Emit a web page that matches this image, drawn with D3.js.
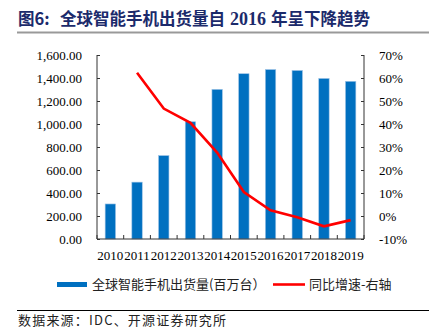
<!DOCTYPE html>
<html><head><meta charset="utf-8">
<script src="https://cdn.jsdelivr.net/npm/d3@7"></script>
<style>body{margin:0;background:#fff}svg{display:block}</style>
</head><body>
<svg id="c" width="439" height="329"></svg>
<script>
const years = ["2010","2011","2012","2013","2014","2015","2016","2017","2018","2019"];
const shipments = [304.7, 494.5, 725.3, 1019.4, 1301.1, 1437.2, 1473.4, 1465.5, 1396.0, 1371.1];
const growth = [null, 62.3, 46.7, 40.5, 27.6, 10.4, 2.5, -0.5, -4.5, -1.8];
const leftTicks = [0,200,400,600,800,1000,1200,1400,1600];
const rightTicks = [-10,0,10,20,30,40,50,60,70];
const titleLabel = "图6:";
const titleParts = ["全球智能手机出货量自", "2016", "年呈下降趋势"];
const legendBar = "全球智能手机出货量(百万台）";
const legendLine = "同比增速-右轴";
const source = "数据来源：IDC、开源证券研究所";

const svg = d3.select("#c");
const L = 97, R = 364, T = 55, B = 239;
const serif = "'Liberation Serif','Times New Roman',serif";
const cjk = "'Noto Sans CJK SC',sans-serif";

const xb = d3.scaleBand().domain(years).range([L, R]);
const yL = d3.scaleLinear().domain([0,1600]).range([B, T]);
const yR = d3.scaleLinear().domain([-10,70]).range([B, T]);

// title
svg.append("text").attr("x",18).attr("y",25).attr("font-family",cjk).attr("font-weight","bold")
  .attr("font-size",16.5).attr("fill","#1b2a6b").text(titleLabel);
const tt = svg.append("text").attr("x",60).attr("y",25).attr("font-family",cjk).attr("font-weight","bold")
  .attr("font-size",16.5).attr("fill","#1b2a6b");
tt.append("tspan").text(titleParts[0]);
tt.append("tspan").attr("dx",5).attr("font-family",serif).attr("font-size",18).text(titleParts[1]);
tt.append("tspan").attr("dx",5).text(titleParts[2]);
svg.append("line").attr("x1",17).attr("x2",429).attr("y1",32.5).attr("y2",32.5).attr("stroke","#999").attr("stroke-width",2);

// bars
svg.append("g").selectAll("rect").data(years).join("rect")
  .attr("x", d => xb(d) + xb.bandwidth()/2 - 5.2)
  .attr("width", 10.4)
  .attr("y", (d,i) => yL(shipments[i]))
  .attr("height", (d,i) => B - yL(shipments[i]))
  .attr("fill", "#0070c0").attr("stroke","#9dc3e6").attr("stroke-width",0.6);

// axes
const axL = d3.axisLeft(yL).tickValues(leftTicks).tickSize(-3).tickPadding(15).tickFormat(d3.format(",.2f"));
const gL = svg.append("g").attr("transform",`translate(${L},0)`).call(axL);
const axR = d3.axisRight(yR).tickValues(rightTicks).tickSize(-3).tickPadding(15).tickFormat(d => d + "%");
const gR = svg.append("g").attr("transform",`translate(${R},0)`).call(axR);
const axB = d3.axisBottom(xb).tickSize(0).tickPadding(12);
const gB = svg.append("g").attr("transform",`translate(0,${B})`).call(axB);
[gL,gR,gB].forEach(g => {
  g.selectAll("text").attr("font-family",serif).attr("font-size",13).attr("fill","#000");
  g.selectAll(".domain").attr("stroke","#333");
  g.selectAll(".tick line").attr("stroke","#333");
});
gL.select(".domain").attr("d",`M0,${T}V${B}`);
gR.select(".domain").attr("d",`M0,${T}V${B}`);
gB.select(".domain").attr("d",`M${L},0H${R}`);
const bounds = years.map(d => xb(d)).concat([R]);
gB.selectAll(".bt").data(bounds).join("line").attr("class","bt")
  .attr("x1",d=>d).attr("x2",d=>d).attr("y1",0).attr("y2",-4).attr("stroke","#333");

// line
const pts = years.map((d,i)=>({d,v:growth[i]})).filter(p => p.v !== null);
svg.append("path").datum(pts)
  .attr("d", d3.line().x(p => xb(p.d) + xb.bandwidth()/2).y(p => yR(p.v)))
  .attr("fill","none").attr("stroke","#ff0000").attr("stroke-width",2.6);

// legend
svg.append("rect").attr("x",57).attr("y",282).attr("width",30).attr("height",5).attr("fill","#0070c0");
svg.append("text").attr("x",92).attr("y",289).attr("font-family",cjk).attr("font-size",13).attr("fill","#222").text(legendBar);
svg.append("line").attr("x1",273).attr("x2",305).attr("y1",284.5).attr("y2",284.5).attr("stroke","#ff0000").attr("stroke-width",2.6);
svg.append("text").attr("x",309).attr("y",289).attr("font-family",cjk).attr("font-size",13).attr("fill","#222").text(legendLine);

// footer
svg.append("line").attr("x1",17).attr("x2",429).attr("y1",310.5).attr("y2",310.5).attr("stroke","#000").attr("stroke-width",1);
svg.append("text").attr("x",18).attr("y",325).attr("font-family",cjk).attr("font-size",13)
  .attr("letter-spacing",1.2).attr("fill","#222").text(source);
</script>
</body></html>
